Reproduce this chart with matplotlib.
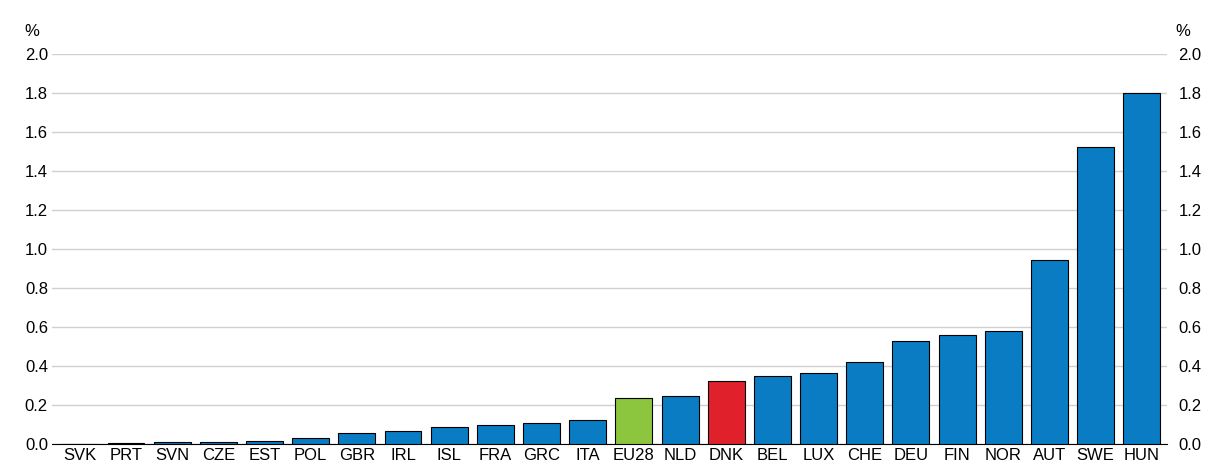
import matplotlib
matplotlib.use("Agg")
import matplotlib.pyplot as plt

countries = ["SVK","PRT","SVN","CZE","EST","POL","GBR","IRL","ISL","FRA","GRC","ITA","EU28","NLD","DNK","BEL","LUX","CHE","DEU","FIN","NOR","AUT","SWE","HUN"]
values = [0.003,0.006,0.01,0.012,0.016,0.03,0.055,0.065,0.09,0.10,0.11,0.125,0.236,0.245,0.323,0.35,0.366,0.42,0.528,0.559,0.58,0.944,1.525,1.80]
yticks = [0.0,0.2,0.4,0.6,0.8,1.0,1.2,1.4,1.6,1.8,2.0]

blue, green, red = "#0a7cc4", "#8cc63f", "#e0202b"
colors = [green if c == "EU28" else red if c == "DNK" else blue for c in countries]

plt.rcParams['font.family'] = ['Liberation Sans', 'DejaVu Sans']
fig = plt.figure(figsize=(12.12, 4.71), dpi=100)
ax = fig.add_axes([0.043, 0.057, 0.920, 0.828])
x = list(range(len(countries)))
ax.bar(x, values, width=0.8, color=colors, edgecolor="black", linewidth=0.8, zorder=3)
ax.set_xlim(-0.6, len(countries) - 0.45)
ax.set_ylim(0, 2.0)
ax.set_yticks(yticks)
ax.set_yticklabels([f"{t:.1f}" for t in yticks], fontsize=12)
ax.set_xticks(x)
ax.set_xticklabels(countries, fontsize=12)
ax.tick_params(axis='both', length=0, pad=3)
ax.grid(axis='y', color='#d0d0d0', linewidth=1, zorder=0)
for s in ['top', 'left', 'right']:
    ax.spines[s].set_visible(False)

ax2 = ax.twinx()
ax2.set_ylim(0, 2.0)
ax2.set_yticks(yticks)
ax2.set_yticklabels([f"{t:.1f}" for t in yticks], fontsize=12)
ax2.tick_params(axis='y', length=0, pad=8)
for s in ['top', 'left', 'right', 'bottom']:
    ax2.spines[s].set_visible(False)

ax.text(-0.025, 1.04, "%", transform=ax.transAxes, fontsize=12, ha='left', va='bottom')
ax.text(1.007, 1.04, "%", transform=ax.transAxes, fontsize=12, ha='left', va='bottom')
fig.savefig("out.png", dpi=100)
